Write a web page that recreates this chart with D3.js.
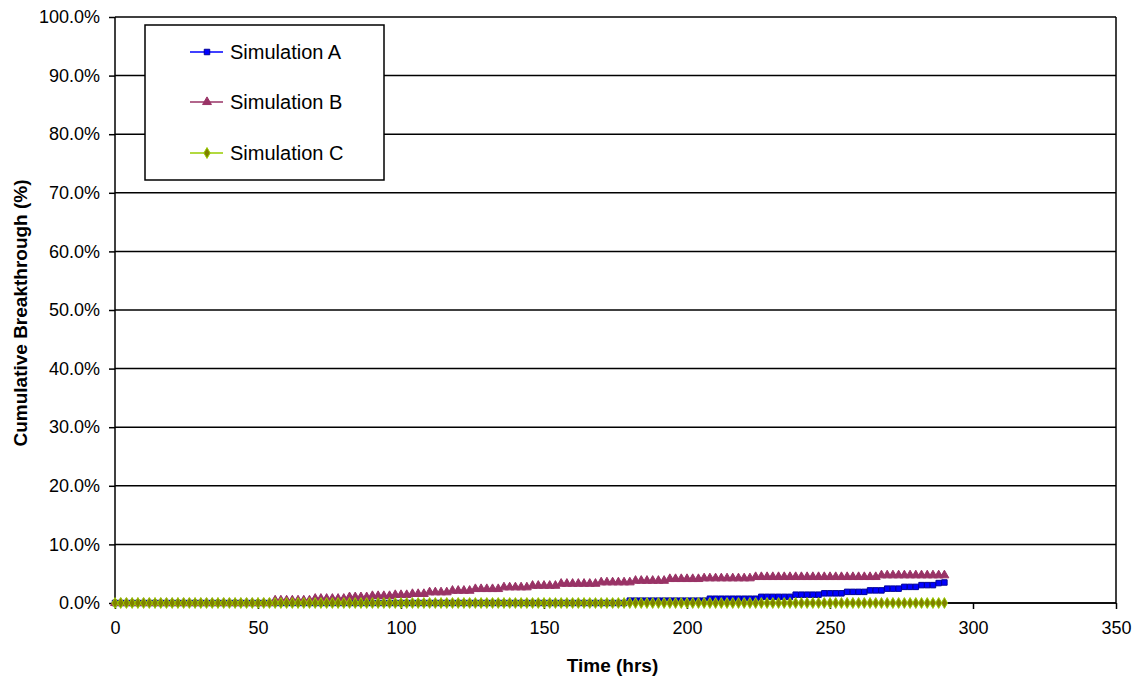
<!DOCTYPE html>
<html>
<head>
<meta charset="utf-8">
<script src="https://cdn.jsdelivr.net/npm/d3@7"></script>
<style>
  html, body { margin: 0; padding: 0; background: #ffffff; }
  svg { display: block; font-family: "Liberation Sans", Arial, sans-serif; }
</style>
</head>
<body>
<svg id="chart" width="1136" height="679"></svg>
<script>
// Sample times (hrs)
const timeHrs = [
  0,2,4,6,8,10,12,14,16,18,20,22,24,26,28,30,32,34,36,38,40,42,44,46,48,50,52,54,
  56,58,60,62,64,66,68,70,72,74,76,78,80,82,84,86,88,90,92,94,96,98,100,102,104,106,108,
  110,112,114,116,118,120,122,124,126,128,130,132,134,136,138,140,142,144,146,148,150,152,154,
  156,158,160,162,164,166,168,170,172,174,176,178,180,182,184,186,188,190,192,194,196,198,200,
  202,204,206,208,210,212,214,216,218,220,222,224,226,228,230,232,234,236,238,240,242,244,246,
  248,250,252,254,256,258,260,262,264,266,268,270,272,274,276,278,280,282,284,286,288,290
];

// Cumulative breakthrough (%) per simulation
const simA = [
  0,0,0,0,0,0,0,0,0,0,0,0,0,0,0,0,0,0,0,0,0,0,0,0,0,0,0,0,
  0,0,0,0,0,0,0,0,0,0,0,0,0,0,0,0,0,0,0,0,0,0,0,0,0,0,0,
  0,0,0,0,0,0,0,0,0,0,0,0,0,0,0,0,0,0,0,0,0,0,0,
  0,0,0,0,0,0,0,0,0,0,0,0,0.4,0.4,0.4,0.4,0.4,0.4,0.4,0.4,0.4,0.4,0.4,
  0.4,0.4,0.4,0.73,0.73,0.73,0.73,0.73,0.73,0.73,0.73,0.73,1.05,1.05,1.05,1.05,1.05,1.05,1.42,1.42,1.42,1.42,1.42,
  1.65,1.65,1.65,1.65,1.9,1.9,1.9,1.9,2.15,2.15,2.15,2.45,2.45,2.45,2.75,2.75,2.75,3.05,3.05,3.05,3.4,3.5
];

const simB = [
  0,0,0,0,0,0,0,0,0,0,0,0,0,0,0,0,0,0,0,0,0,0,0,0,0,0,0,0,
  0.45,0.45,0.45,0.45,0.45,0.45,0.45,0.73,0.73,0.73,0.73,0.73,0.73,1.0,1.0,1.0,1.0,1.2,1.2,1.2,1.2,1.37,1.37,1.37,1.55,1.55,1.55,
  1.83,1.83,1.83,1.83,2.1,2.1,2.1,2.1,2.39,2.39,2.39,2.39,2.39,2.68,2.68,2.68,2.68,2.68,2.95,2.95,2.95,2.95,2.95,
  3.29,3.29,3.29,3.29,3.29,3.29,3.29,3.53,3.53,3.53,3.53,3.53,3.53,3.8,3.8,3.8,3.8,3.8,3.8,4.1,4.1,4.1,4.1,
  4.1,4.1,4.22,4.22,4.22,4.22,4.22,4.22,4.22,4.22,4.22,4.44,4.44,4.44,4.44,4.44,4.44,4.44,4.44,4.44,4.44,4.44,4.44,
  4.44,4.44,4.44,4.44,4.44,4.44,4.44,4.44,4.44,4.44,4.73,4.73,4.73,4.73,4.73,4.73,4.73,4.73,4.73,4.73,4.73,4.73
];

const simC = [
  0,0,0,0,0,0,0,0,0,0,0,0,0,0,0,0,0,0,0,0,0,0,0,0,0,0,0,0,
  0,0,0,0,0,0,0,0,0,0,0,0,0,0,0,0,0,0,0,0,0,0,0,0,0,0,0,
  0,0,0,0,0,0,0,0,0,0,0,0,0,0,0,0,0,0,0,0,0,0,0,
  0,0,0,0,0,0,0,0,0,0,0,0,0,0,0,0,0,0,0,0,0,0,0,
  0,0,0,0,0,0,0,0,0,0,0,0,0,0,0,0,0,0,0,0,0,0,0,
  0,0,0,0,0,0,0,0,0,0,0,0,0,0,0,0,0,0,0,0,0,0
];

const seriesNames = ["Simulation A", "Simulation B", "Simulation C"];
const xTicks = [0, 50, 100, 150, 200, 250, 300, 350];
const yTicks = [0, 10, 20, 30, 40, 50, 60, 70, 80, 90, 100];

const series = [
  { name: seriesNames[0], values: simA, line: "#0000ff", fill: "#0000ff", stroke: "#000099", shape: d3.symbolSquare, size: 30 },
  { name: seriesNames[1], values: simB, line: "#993366", fill: "#993366", stroke: "#993366", shape: d3.symbolTriangle, size: 34 },
  { name: seriesNames[2], values: simC, line: "#99cc00", fill: "#808000", stroke: "#99cc00", shape: d3.symbolDiamond, size: 34 }
];

const svg = d3.select("#chart");
const plot = { left: 115, right: 1116, top: 17, bottom: 603 };

const x = d3.scaleLinear().domain([0, 350]).range([plot.left, plot.right]);
const y = d3.scaleLinear().domain([0, 100]).range([plot.bottom, plot.top]);

// Horizontal gridlines
svg.append("g")
  .selectAll("line")
  .data(yTicks)
  .join("line")
  .attr("x1", plot.left).attr("x2", plot.right)
  .attr("y1", d => y(d)).attr("y2", d => y(d))
  .attr("stroke", "#000").attr("stroke-width", 1.5);

// Right border of plot area
svg.append("line")
  .attr("x1", plot.right).attr("x2", plot.right)
  .attr("y1", plot.top).attr("y2", plot.bottom)
  .attr("stroke", "#000").attr("stroke-width", 1.5);

// Axes
const yAxis = d3.axisLeft(y).tickValues(yTicks).tickSize(6).tickPadding(9)
  .tickFormat(d => d.toFixed(1) + "%");
const xAxis = d3.axisBottom(x).tickValues(xTicks).tickSize(6).tickPadding(12);

const gy = svg.append("g").attr("transform", `translate(${plot.left},0)`).call(yAxis);
const gx = svg.append("g").attr("transform", `translate(0,${plot.bottom})`).call(xAxis);

[gx, gy].forEach(g => {
  g.select(".domain").attr("stroke", "#000").attr("stroke-width", 1.5);
  g.selectAll(".tick line").attr("stroke", "#000").attr("stroke-width", 1.5);
  g.selectAll(".tick text")
    .attr("fill", "#000")
    .style("font-family", "'Liberation Sans', Arial, sans-serif")
    .style("font-size", "18px");
});
gy.select(".domain").attr("d", `M0,${plot.bottom}V${plot.top}`);
gx.select(".domain").attr("d", `M${plot.left},0H${plot.right}`);

// Axis titles
svg.append("text")
  .attr("x", (plot.left + plot.right) / 2 - 3)
  .attr("y", 672)
  .attr("text-anchor", "middle")
  .style("font-weight", "bold")
  .style("font-size", "19px")
  .text("Time (hrs)");

svg.append("text")
  .attr("transform", `translate(27,${(plot.top + plot.bottom) / 2 + 3}) rotate(-90)`)
  .attr("text-anchor", "middle")
  .style("font-weight", "bold")
  .style("font-size", "19px")
  .text("Cumulative Breakthrough (%)");

// Series lines and markers
const lineGen = d3.line()
  .x((d, i) => x(timeHrs[i]))
  .y(d => y(d));

series.forEach(s => {
  const g = svg.append("g");
  g.append("path")
    .attr("d", lineGen(s.values))
    .attr("fill", "none")
    .attr("stroke", s.line)
    .attr("stroke-width", 1.5);
  g.selectAll("path.mk")
    .data(s.values)
    .join("path")
    .attr("class", "mk")
    .attr("transform", (d, i) => `translate(${x(timeHrs[i])},${y(d)})`)
    .attr("d", d3.symbol().type(s.shape).size(s.size))
    .attr("fill", s.fill)
    .attr("stroke", s.stroke)
    .attr("stroke-width", 1);
});

// Legend
const legend = svg.append("g");
legend.append("rect")
  .attr("x", 145).attr("y", 25)
  .attr("width", 239).attr("height", 155)
  .attr("fill", "#fff").attr("stroke", "#000").attr("stroke-width", 1.5);

const legendY = [52, 102, 153];
series.forEach((s, i) => {
  const ly = legendY[i];
  legend.append("line")
    .attr("x1", 190).attr("x2", 223)
    .attr("y1", ly).attr("y2", ly)
    .attr("stroke", s.line).attr("stroke-width", 1.5);
  legend.append("path")
    .attr("transform", `translate(207,${ly})`)
    .attr("d", d3.symbol().type(s.shape).size(s.size)())
    .attr("fill", s.fill)
    .attr("stroke", s.stroke)
    .attr("stroke-width", 1);
  legend.append("text")
    .attr("x", 230).attr("y", ly + 7)
    .style("font-size", "20px")
    .text(s.name);
});
</script>
</body>
</html>
